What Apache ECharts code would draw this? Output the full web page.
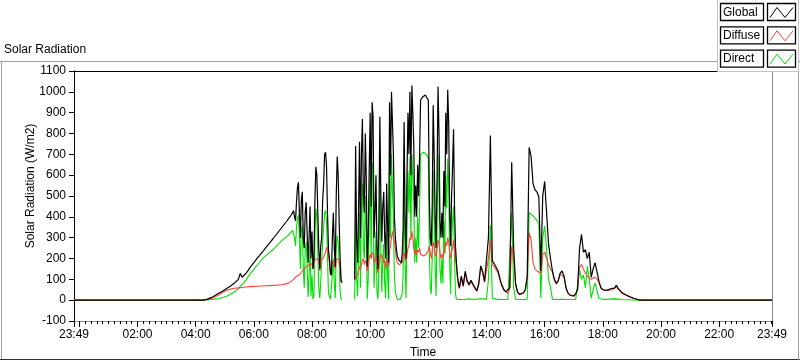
<!DOCTYPE html>
<html><head><meta charset="utf-8">
<script src="https://cdn.jsdelivr.net/npm/echarts@6/dist/echarts.min.js"></script>
<style>html,body{margin:0;padding:0;background:#fff}#c{width:800px;height:361px}</style>
</head><body><div id="c"></div>
<script>
// Time axis in minutes since midnight.
const X_MIN = -11, X_MAX = 1429;   // 23:49 (previous day) .. 23:49
const xLabelMinutes = [-11, 120, 240, 360, 480, 600, 720, 840, 960, 1080, 1200, 1320, 1429];
const xMajorTickMinutes = [-11, 0, 120, 240, 360, 480, 600, 720, 840, 960, 1080, 1200, 1320, 1429];
const legendNames = ['Global', 'Diffuse', 'Direct'];

// Segment 1: 04:00 .. 07:16, every 4 min
const morningStart = 240, morningStep = 4;
const morningGlobal = [0,0,0,0,0,3,5,8,12,18,22,28,34,42,44,50,56,62,68,75,82,90,100,128,110,118,130,142,156,168,180,192,204,215,227,238,250,262,273,285,296,308,320,332,344,356,368,380,393,405];
const morningDiffuse = [0,0,0,0,0,1,3,5,8,11,15,20,26,32,38,44,48,51,53,55,57,58,59,60,61,62,63,64,65,66,66,67,67,68,68,69,69,70,70,70,71,72,72,73,74,75,77,80,83,86];
const morningDirect = [0,0,0,0,0,0,1,2,3,4,5,6,8,10,13,16,19,24,28,33,40,46,54,66,74,84,96,112,124,136,148,160,170,182,193,204,212,220,228,236,243,252,262,272,282,290,298,306,313,320];

// Segment 2: 07:20 .. 13:04, every 2 min (null = no data)
const midStart = 440, midStep = 2;
const midGlobal = [
420,430,400,380,470,540,566,420,300,480,
520,300,250,420,470,320,180,300,450,200,
330,150,200,480,640,600,420,250,150,260,
300,480,560,700,710,640,420,240,200,130,
120,300,420,250,160,500,690,600,380,200,
95,85,null,null,null,null,null,null,null,null,null,null,null,null,
100,740,300,180,420,760,
300,700,870,500,420,800,580,160,300,620,
900,450,950,880,300,420,600,250,150,380,
880,500,280,450,520,300,200,560,350,180,
950,600,1000,850,700,400,300,250,210,200,
190,185,180,220,340,855,400,200,600,900,
700,1000,600,1030,900,740,400,550,400,650,
500,700,960,965,975,978,980,985,975,970,
960,500,300,260,450,935,700,400,250,600,
1025,800,380,300,420,300,620,450,900,700,
1010,850,430,260,500,640,820,450,260,180,
120,80,60];
const midDiffuse = [
95,100,105,110,115,120,118,122,125,130,
140,145,150,155,160,165,165,170,175,170,
175,150,180,190,185,200,200,190,140,170,
195,200,205,220,230,255,240,210,180,120,
115,180,190,170,150,190,200,200,190,150,
88,82,null,null,null,null,null,null,null,null,null,null,null,null,
95,110,115,120,140,160,
150,170,190,200,170,190,180,140,160,200,
220,200,230,220,180,190,210,170,130,160,
200,220,210,200,180,190,150,200,190,160,
240,260,300,330,330,280,250,200,180,175,
170,168,165,180,200,230,210,185,220,250,
260,300,290,330,300,250,220,240,220,240,
230,250,220,215,215,212,210,215,220,225,
240,260,230,200,230,280,260,220,210,250,
290,270,230,200,220,200,240,230,280,260,
300,280,230,200,230,250,290,240,200,160,
110,75,55];
const midDirect = [
335,340,300,260,350,390,410,300,150,330,
360,150,60,250,280,160,15,120,260,20,
120,5,20,300,440,400,230,60,10,90,
95,280,350,420,430,380,200,30,20,5,
5,120,200,80,10,250,310,280,180,40,
5,3,null,null,null,null,null,null,null,null,null,null,null,null,
3,380,100,20,200,420,
60,450,560,250,200,500,330,5,100,380,
620,200,660,600,60,180,330,40,5,150,
600,250,40,200,270,80,10,320,120,5,
650,300,700,520,380,120,40,20,5,3,
3,3,3,30,120,560,180,10,350,620,
420,690,300,700,600,460,180,300,180,400,
250,450,700,705,705,710,710,712,700,690,
680,230,60,30,200,620,430,160,20,350,
700,500,150,80,200,80,380,220,600,440,
680,550,180,30,280,380,450,200,30,5,
5,4,3];

// Segment 3: 13:08 .. 19:40, every 4 min
const eveStart = 788, eveStep = 4;
const eveGlobal = [
115,70,139,95,75,95,99,60,45,
80,165,140,90,95,300,790,190,175,170,
140,100,70,50,40,35,60,662,250,80,
40,28,30,35,50,115,734,690,560,530,
520,495,140,500,570,420,270,200,140,100,
80,95,130,140,115,60,35,25,20,20,
30,55,250,316,230,243,200,230,110,150,
180,175,90,60,50,48,47,50,55,52,
58,72,55,45,35,28,25,20,16,12,
9,6,3,1,0,0,0,0,0,0];
const eveDiffuse = [
105,65,128,88,70,88,92,56,42,
75,155,130,85,88,200,290,170,160,158,
130,94,66,47,38,33,56,260,200,75,
38,27,29,33,47,108,324,290,180,150,
140,135,130,220,230,200,170,150,135,96,
77,90,125,134,110,58,34,24,19,19,
29,52,160,171,150,130,115,108,100,98,
110,100,85,57,48,46,45,48,52,50,
55,65,52,43,33,27,24,19,15,11,
8,5,3,1,0,0,0,0,0,0];
const eveDirect = [
5,3,5,5,4,5,5,3,3,
6,8,6,5,5,100,360,10,6,5,
5,4,3,3,3,3,4,420,60,5,
3,3,3,3,4,5,420,415,405,395,
390,370,10,300,356,240,100,60,5,3,
3,3,4,5,4,3,3,3,3,3,
3,4,147,100,120,60,163,100,10,50,
83,80,8,5,4,4,4,4,5,5,
6,15,5,4,3,3,2,2,2,1,
1,1,0,0,0,0,0,0,0,0];

function seg(vals, start, step) { return vals.map((v, i) => [start + i * step, v]); }
function buildSeries(m, mid, eve) {
  return [[X_MIN, 0]]
    .concat(seg(m, morningStart, morningStep))
    .concat(seg(mid, midStart, midStep))
    .concat(seg(eve, eveStart, eveStep))
    .concat([[X_MAX, 0]]);
}
function fmtTime(v) {
  const m = ((Math.round(v) % 1440) + 1440) % 1440;
  return String(Math.floor(m / 60)).padStart(2, '0') + ':' + String(m % 60).padStart(2, '0');
}
const minorTicks = [X_MIN];
for (let m = 0; m <= 1428; m += 12) minorTicks.push(m);
minorTicks.push(X_MAX);

const FONT = 'Liberation Sans, Arial, sans-serif';
const chart = echarts.init(document.getElementById('c'), null, {renderer: 'canvas'});

const legendColors = ['#000000', '#ff4040', '#00e000'];
const legendGraphics = [{
  type: 'rect', z: 100, shape: {x: 717.5, y: -0.5, width: 81, height: 72},
  style: {fill: '#ffffff', stroke: '#c4c4c4', lineWidth: 1}
}];
legendNames.forEach((n, i) => {
  const y0 = 3.5 + i * 23.3;
  legendGraphics.push({type: 'rect', z: 101, shape: {x: 720.5, y: y0, width: 43, height: 17},
    style: {fill: '#fff', stroke: '#000', lineWidth: 1.3}});
  legendGraphics.push({type: 'text', z: 102, style: {x: 723, y: y0 + 9, text: n, fill: '#000',
    font: '12px ' + FONT, verticalAlign: 'middle'}});
  legendGraphics.push({type: 'rect', z: 101, shape: {x: 767.5, y: y0, width: 28, height: 17},
    style: {fill: '#fff', stroke: '#000', lineWidth: 1.3}});
  legendGraphics.push({type: 'polyline', z: 102, shape: {points: [[770, y0 + 14], [777, y0 + 4], [785, y0 + 14], [793, y0 + 4]]},
    style: {stroke: legendColors[i], lineWidth: 1, fill: null}});
});

const option = {
  animation: false,
  backgroundColor: '#ffffff',
  textStyle: {fontFamily: FONT},
  grid: {left: 74, right: 28, top: 71, bottom: 40, containLabel: false, outerBoundsMode: 'none'},
  xAxis: [
    {type: 'value', min: X_MIN, max: X_MAX, position: 'bottom',
     axisLine: {show: true, onZero: false, lineStyle: {color: '#8a8a8a', width: 1}},
     axisTick: {show: true, customValues: minorTicks, length: 3, lineStyle: {color: '#000'}},
     axisLabel: {customValues: xLabelMinutes, formatter: fmtTime, fontSize: 12, color: '#000', margin: 8, fontFamily: FONT},
     splitLine: {show: false}},
    {type: 'value', min: X_MIN, max: X_MAX, position: 'bottom',
     axisLine: {show: false, onZero: false},
     axisTick: {show: true, customValues: xMajorTickMinutes, length: 6, lineStyle: {color: '#000'}},
     axisLabel: {show: false}, splitLine: {show: false}},
    {type: 'value', min: X_MIN, max: X_MAX, position: 'top',
     axisLine: {show: true, onZero: false, lineStyle: {color: '#000', width: 1}},
     axisTick: {show: false}, axisLabel: {show: false}, splitLine: {show: false}}
  ],
  yAxis: [
    {type: 'value', min: -100, max: 1100, interval: 100, position: 'left',
     axisLine: {show: true, onZero: false, lineStyle: {color: '#000', width: 1}},
     axisTick: {show: true, length: 5, lineStyle: {color: '#000'}},
     axisLabel: {fontSize: 12, color: '#000', margin: 8, fontFamily: FONT, formatter: v => String(v)},
     splitLine: {show: false}},
    {type: 'value', min: -100, max: 1100, interval: 100, position: 'right',
     axisLine: {show: true, onZero: false, lineStyle: {color: '#8a8a8a', width: 1}},
     axisTick: {show: false}, axisLabel: {show: false}, splitLine: {show: false}}
  ],
  series: [
    {name: 'Direct', type: 'line', data: buildSeries(morningDirect, midDirect, eveDirect), showSymbol: false, connectNulls: false,
     lineStyle: {width: 1.1, color: '#00e000'}, itemStyle: {color: '#00e000'}, z: 2},
    {name: 'Diffuse', type: 'line', data: buildSeries(morningDiffuse, midDiffuse, eveDiffuse), showSymbol: false, connectNulls: false,
     lineStyle: {width: 1.1, color: '#ff4040'}, itemStyle: {color: '#ff4040'}, z: 3},
    {name: 'Global', type: 'line', data: buildSeries(morningGlobal, midGlobal, eveGlobal), showSymbol: false, connectNulls: false,
     lineStyle: {width: 1.2, color: '#000000'}, itemStyle: {color: '#000000'}, z: 4}
  ],
  graphic: [
    {type: 'line', z: 50, shape: {x1: 0, y1: 61.5, x2: 800, y2: 61.5}, style: {stroke: '#a0a0a0', lineWidth: 1}},
    {type: 'line', z: 50, shape: {x1: 1.5, y1: 61, x2: 1.5, y2: 360}, style: {stroke: '#a0a0a0', lineWidth: 1}},
    {type: 'line', z: 50, shape: {x1: 0, y1: 359.5, x2: 800, y2: 359.5}, style: {stroke: '#303030', lineWidth: 1}},
    {type: 'line', z: 50, shape: {x1: 798.5, y1: 61, x2: 798.5, y2: 360}, style: {stroke: '#a0a0a0', lineWidth: 1}},
    {type: 'text', z: 50, style: {x: 4, y: 50, text: 'Solar Radiation', fill: '#000', font: '12px ' + FONT, verticalAlign: 'middle'}},
    {type: 'text', z: 50, style: {x: 423, y: 353, text: 'Time', fill: '#000', font: '12px ' + FONT, align: 'center', verticalAlign: 'middle'}},
    {type: 'text', z: 50, x: 31, y: 186, rotation: Math.PI / 2,
     style: {x: 0, y: 0, text: 'Solar Radiation (W/m2)', fill: '#000', font: '12px ' + FONT, align: 'center', verticalAlign: 'middle'}}
  ].concat(legendGraphics)
};
chart.setOption(option);
</script></body></html>
